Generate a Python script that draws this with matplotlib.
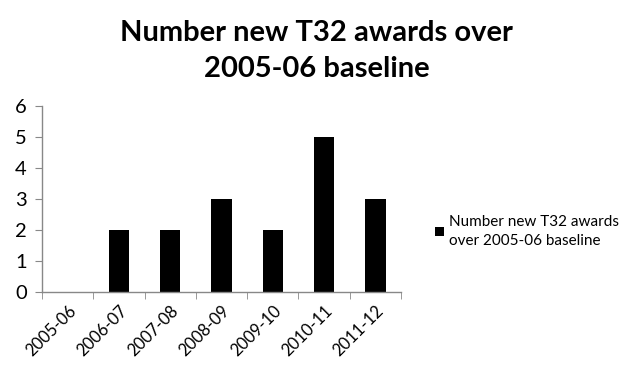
import matplotlib.pyplot as plt
import numpy as np

years = ["2005-06", "2006-07", "2007-08", "2008-09", "2009-10", "2010-11", "2011-12"]
new_awards = [0, 2, 2, 3, 2, 5, 3]
series_name = "Number new T32 awards\nover 2005-06 baseline"
title = "Number new T32 awards over\n2005-06 baseline"

plt.rcParams['font.family'] = ['Lato', 'DejaVu Sans']

fig = plt.figure(figsize=(6.33, 3.66), dpi=100)
ax = fig.add_axes([0.0664, 0.2022, 0.567, 0.5082])

x = np.arange(len(years))
ax.bar(x, new_awards, width=0.4, color='black', label=series_name)

ax.set_xlim(-0.5, len(years) - 0.5)
ax.set_ylim(0, 6)
ax.set_yticks(range(0, 7))
ax.tick_params(axis='y', labelsize=14.5, length=5, color='#888888', direction='out', pad=6)
ax.set_xticks(x)
ax.set_xticklabels(years, rotation=45, ha='right', rotation_mode='anchor', fontsize=12)
ax.tick_params(axis='x', length=0, pad=8)
ax.set_xticks(np.arange(-0.5, len(years), 1), minor=True)
ax.tick_params(axis='x', which='minor', length=5, color='#888888', direction='out')

for side in ['top', 'right']:
    ax.spines[side].set_visible(False)
for side in ['left', 'bottom']:
    ax.spines[side].set_color('#888888')
    ax.spines[side].set_linewidth(1.0)

fig.text(0.5, 0.945, title, ha='center', va='top', fontsize=21, fontweight='bold', linespacing=1.45)

leg = fig.legend(loc='center left', bbox_to_anchor=(0.665, 0.368), frameon=False,
                 fontsize=11, handlelength=0.6, handleheight=0.6, handletextpad=0.35)
for t in leg.get_texts():
    t.set_linespacing(1.45)

fig.savefig("out.png", dpi=100)
